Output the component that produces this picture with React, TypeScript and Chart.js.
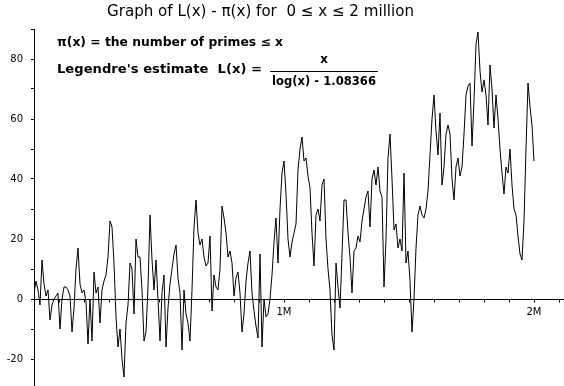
import React, { useEffect, useRef } from "react";
import { Chart, registerables } from "chart.js";

Chart.register(...registerables);

// L(x) - pi(x), sampled every 8000 along x (0 .. 2,000,000)
const STEP = 8000;
const diffPart1 = [
  2, 6, 3, -2, 13, 5, 1, 3, -7, -2, 0, 1, 2, -10, 0, 4, 4, 3, 1, -11,
  -3, 10, 17, 5, 2, 3, -1, -15, 0, -14, 9, 2, 4, -8, 3, 6, 8, 14, 26, 24,
  12, -6, -16, -10, -20, -26, -8, -2, 12, 10, -5, 20, 14, 14, 3, -14, -11, 4, 28, 13,
  3, 13, 0,
];
const diffPart2 = [
  -14, 2, 8, -16, -3, 5, 10, 15, 18, 7, 2, -17, 3, -5, -8, -14, 3, 24, 33, 22,
  18, 20, 14, 11, 12, 21, -4, 8, 4, 3, 10, 31, 27, 22, 14, 16, 12, 1, 7, 9,
  2, -11, -5, 6, 12, 16, 2, -4, -9, -13, 15, -16, 0, -6, -5, 0, 8, 19, 27, 12,
  30, 42,
];
const diffPart3 = [
  46, 35, 20, 14, 19, 22, 25, 43, 50, 54, 46, 47, 41, 37, 22, 11, 28, 30, 26, 38,
  40, 20, 10, 3, -12, -17, 12, 4, -3, 15, 33, 33, 22, 14, 2, 16, 17, 21, 19, 26,
  30, 34, 36, 24, 40, 43, 38, 44, 36, 34, 4, 20, 47, 55, 40, 23, 25, 17, 20, 16,
  42, 12, 16,
];
const diffPart4 = [
  6, -11, 0, 17, 28, 31, 28, 27, 30, 36, 48, 60, 68, 56, 48, 62, 38, 44, 55, 58,
  55, 40, 33, 44, 47, 41, 44, 55, 68, 71, 72, 51, 66, 85, 89, 76, 69, 73, 68, 58,
  78, 70, 57, 68, 60, 50, 42, 35, 44, 42, 50, 38, 30, 28, 21, 15, 13, 26, 50, 72,
  64, 58, 46,
];

const xTickValues = [
  100000, 200000, 300000, 400000, 500000, 600000, 700000, 800000, 900000, 1000000,
  1100000, 1200000, 1300000, 1400000, 1500000, 1600000, 1700000, 1800000, 1900000,
  2000000, 2100000,
];
const xTickLabels: Record<number, string> = { 1000000: "1M", 2000000: "2M" };
const yLabelValues = [-20, 0, 20, 40, 60, 80];

const TITLE = "Graph of L(x) - \u03c0(x) for  0 \u2264 x \u2264 2 million";
const NOTE1 = "\u03c0(x) = the number of primes \u2264 x";
const NOTE2 = "Legendre's estimate  L(x) =";
const NUMER = "x";
const DENOM = "log(x) - 1.08366";

function fitText(ctx: CanvasRenderingContext2D, text: string, left: number, y: number, width: number) {
  const w = ctx.measureText(text).width;
  ctx.save();
  ctx.translate(left, y);
  ctx.scale(width / w, 1);
  ctx.textAlign = "left";
  ctx.fillText(text, 0, 0);
  ctx.restore();
}

const textPlugin = {
  id: "textPlugin",
  afterDraw(chart: any) {
    const ctx = chart.ctx as CanvasRenderingContext2D;
    const xs = chart.scales.x;
    const ys = chart.scales.y;
    const area = chart.chartArea;
    ctx.save();
    // x axis drawn at y = 0
    const y0 = Math.round(ys.getPixelForValue(0)) + 0.5;
    ctx.strokeStyle = "#000";
    ctx.lineWidth = 1;
    ctx.beginPath();
    ctx.moveTo(area.left, y0);
    ctx.lineTo(area.right, y0);
    for (const v of xTickValues) {
      const px = Math.round(xs.getPixelForValue(v)) + 0.5;
      ctx.moveTo(px, y0);
      ctx.lineTo(px, y0 + 3);
    }
    ctx.stroke();
    ctx.fillStyle = "#000";
    ctx.font = "10px 'DejaVu Sans'";
    ctx.textAlign = "center";
    ctx.textBaseline = "middle";
    for (const v of xTickValues) {
      const lab = xTickLabels[v];
      if (lab) ctx.fillText(lab, xs.getPixelForValue(v), y0 + 13);
    }

    ctx.font = "15px 'DejaVu Sans'";
    fitText(ctx, TITLE, 107, 12, 307);

    ctx.font = "bold 12px 'DejaVu Sans'";
    fitText(ctx, NOTE1, 57, 43, 226);
    fitText(ctx, NOTE2, 57, 70, 205);
    ctx.textAlign = "center";
    ctx.fillText(NUMER, 324, 60);
    fitText(ctx, DENOM, 272, 82, 104);
    ctx.fillRect(270, 71, 108, 1);
    ctx.restore();
  },
};

export default function App() {
  const ref = useRef<HTMLCanvasElement | null>(null);
  useEffect(() => {
    const canvas = ref.current;
    if (!canvas) return;
    const all = [...diffPart1, ...diffPart2, ...diffPart3, ...diffPart4];
    const data = all.map((y, i) => ({ x: i * STEP, y }));
    const chart = new Chart(canvas, {
      type: "line",
      data: {
        datasets: [
          {
            data,
            borderColor: "#000",
            borderWidth: 1,
            pointRadius: 0,
            tension: 0,
            fill: false,
          },
        ],
      },
      options: {
        animation: false,
        responsive: false,
        maintainAspectRatio: false,
        layout: { padding: { top: 29, left: 0, right: 0, bottom: 0 } },
        plugins: { legend: { display: false }, tooltip: { enabled: false }, title: { display: false } },
        scales: {
          x: {
            type: "linear",
            min: 0,
            max: 2120000,
            display: false,
          },
          y: {
            type: "linear",
            min: -29,
            max: 90,
            position: "left",
            afterBuildTicks(scale: any) {
              scale.ticks = scale.ticks.filter((t: any) => t.value % 10 === 0);
            },
            afterFit(scale: any) {
              scale.width = 34;
              scale.paddingTop = 0;
              scale.paddingBottom = 0;
            },
            grid: { drawOnChartArea: false, tickLength: 3, color: "#000" },
            border: { display: true, color: "#000", width: 1 },
            ticks: {
              stepSize: 10,
              autoSkip: false,
              padding: 8,
              color: "#000",
              font: { family: "DejaVu Sans", size: 10 },
              callback: (v: any) => (yLabelValues.includes(Number(v)) ? String(v) : ""),
            },
          },
        },
      },
      plugins: [textPlugin],
    });
    return () => chart.destroy();
  }, []);
  return (
    <div style={{ position: "fixed", left: 0, top: 0, width: 564, height: 386, background: "#fff" }}>
      <canvas ref={ref} width={564} height={386} style={{ width: 564, height: 386, display: "block" }} />
    </div>
  );
}
